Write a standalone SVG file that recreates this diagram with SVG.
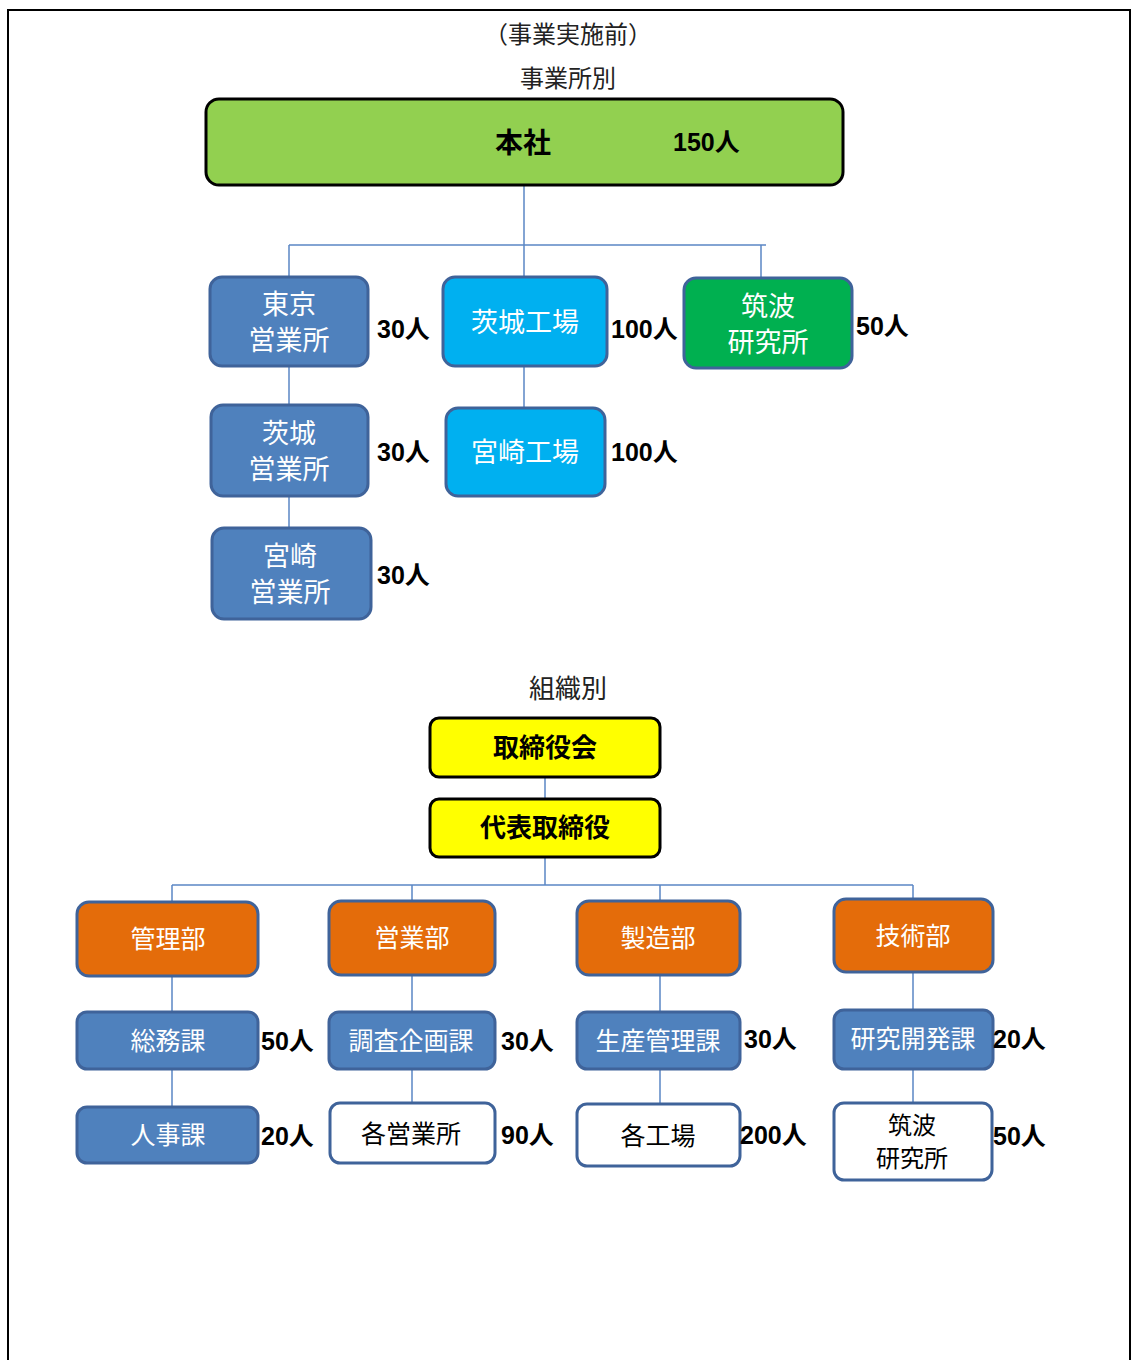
<svg xmlns="http://www.w3.org/2000/svg" width="1137" height="1360" viewBox="0 0 1137 1360">
<style>
.title{font-family:"Noto Sans CJK JP","Noto Sans CJK SC",sans-serif;font-size:24px;fill:#222;text-anchor:middle}
.bx{stroke:#3F639A;stroke-width:3}
.blue{fill:#4F81BD}
.cyan{fill:#00B0F0}
.green{fill:#00B050}
.orange{fill:#E46C0A}
.white{fill:#FFFFFF}
.yellow{fill:#FFFF00;stroke:#000;stroke-width:3}
.lime{fill:#92D050;stroke:#000;stroke-width:3}
.wt{font-family:"Noto Sans CJK JP","Noto Sans CJK SC",sans-serif;font-size:25px;fill:#fff;text-anchor:middle}
.wt2{font-family:"Noto Sans CJK JP","Noto Sans CJK SC",sans-serif;font-size:27px;fill:#fff;text-anchor:middle}
.bt{font-family:"Noto Sans CJK JP","Noto Sans CJK SC",sans-serif;font-size:25px;fill:#000;text-anchor:middle}
.bb{font-family:"Noto Sans CJK JP","Noto Sans CJK SC",sans-serif;font-size:26px;font-weight:bold;fill:#000;text-anchor:middle}
.num{font-family:"Liberation Sans","Noto Sans CJK JP",sans-serif;font-size:25px;font-weight:bold;fill:#000}
.ln{stroke:#5B87C5;stroke-width:1.5;fill:none}
</style>
<rect x="0" y="0" width="1137" height="1360" fill="#fff"/>
<path d="M8,1360 V10 H1130 V1360" fill="none" stroke="#000" stroke-width="2"/>
<text class="title" x="568" y="43">（事業実施前）</text>
<text class="title" x="568" y="87">事業所別</text>
<text class="title" x="568" y="698" style="font-size:26px">組織別</text>
<g id="connectors">
<path class="ln" d="M524,185 V277 M289,245 H766 M289,245 V277 M761,245 V278 M289,366 V406 M524,366 V408 M289,496 V528"/>
<path class="ln" d="M545,777 V799 M545,857 V885 M172,885 H913 M172,885 V902 M412,885 V901 M660,885 V901 M913,885 V899"/>
<path class="ln" d="M172,976 V1012 M412,975 V1012 M660,975 V1012 M913,972 V1010 M172,1069 V1107 M412,1069 V1103 M660,1069 V1104 M913,1069 V1103"/>
</g>
<g id="honsha"><rect class="lime" x="206" y="99" width="637" height="86" rx="13"/><text class="bb" x="523" y="153" style="font-size:28px">本社</text><text class="num" x="673" y="151">150人</text></g>
<g id="tokyo"><rect class="bx blue" x="210" y="277" width="158" height="89" rx="12"/><text class="wt2" x="289" y="314">東京<tspan x="289" dy="36">営業所</tspan></text><text class="num" x="377" y="338">30人</text></g>
<g id="ibaraki-factory"><rect class="bx cyan" x="443" y="277" width="164" height="89" rx="12"/><text class="wt2" x="525" y="332">茨城工場</text><text class="num" x="611" y="338">100人</text></g>
<g id="tsukuba"><rect class="bx green" x="684" y="278" width="168" height="90" rx="12"/><text class="wt2" x="768" y="316">筑波<tspan x="768" dy="36">研究所</tspan></text><text class="num" x="856" y="335">50人</text></g>
<g id="ibaraki-office"><rect class="bx blue" x="211" y="405" width="157" height="91" rx="12"/><text class="wt2" x="289" y="443">茨城<tspan x="289" dy="36">営業所</tspan></text><text class="num" x="377" y="461">30人</text></g>
<g id="miyazaki-factory"><rect class="bx cyan" x="446" y="408" width="159" height="88" rx="12"/><text class="wt2" x="525" y="462">宮崎工場</text><text class="num" x="611" y="461">100人</text></g>
<g id="miyazaki-office"><rect class="bx blue" x="212" y="528" width="159" height="91" rx="12"/><text class="wt2" x="290" y="566">宮崎<tspan x="290" dy="36">営業所</tspan></text><text class="num" x="377" y="584">30人</text></g>
<g id="board"><rect class="yellow" x="430" y="718" width="230" height="59" rx="9"/><text class="bb" x="545" y="757">取締役会</text></g>
<g id="ceo"><rect class="yellow" x="430" y="799" width="230" height="58" rx="9"/><text class="bb" x="545" y="837">代表取締役</text></g>
<g id="kanri"><rect class="bx orange" x="77" y="902" width="181" height="74" rx="12"/><text class="wt" x="168" y="948">管理部</text></g>
<g id="eigyo"><rect class="bx orange" x="329" y="901" width="166" height="74" rx="12"/><text class="wt" x="412" y="947">営業部</text></g>
<g id="seizo"><rect class="bx orange" x="577" y="901" width="163" height="74" rx="12"/><text class="wt" x="658" y="947">製造部</text></g>
<g id="gijutsu"><rect class="bx orange" x="834" y="899" width="159" height="73" rx="12"/><text class="wt" x="913" y="945">技術部</text></g>
<g id="somu"><rect class="bx blue" x="77" y="1012" width="181" height="57" rx="10"/><text class="wt" x="168" y="1050">総務課</text><text class="num" x="261" y="1050">50人</text></g>
<g id="chosa"><rect class="bx blue" x="329" y="1012" width="166" height="57" rx="10"/><text class="wt" x="411" y="1050">調査企画課</text><text class="num" x="501" y="1050">30人</text></g>
<g id="seisan"><rect class="bx blue" x="577" y="1012" width="163" height="57" rx="10"/><text class="wt" x="658" y="1050">生産管理課</text><text class="num" x="744" y="1048">30人</text></g>
<g id="kenkyu"><rect class="bx blue" x="834" y="1010" width="159" height="59" rx="10"/><text class="wt" x="913" y="1048">研究開発課</text><text class="num" x="993" y="1048">20人</text></g>
<g id="jinji"><rect class="bx blue" x="77" y="1107" width="181" height="56" rx="10"/><text class="wt" x="168" y="1144">人事課</text><text class="num" x="261" y="1145">20人</text></g>
<g id="kaku-eigyo"><rect class="bx white" x="330" y="1103" width="165" height="60" rx="10"/><text class="bt" x="411" y="1143">各営業所</text><text class="num" x="501" y="1144">90人</text></g>
<g id="kaku-kojo"><rect class="bx white" x="577" y="1104" width="163" height="62" rx="10"/><text class="bt" x="658" y="1145">各工場</text><text class="num" x="740" y="1144">200人</text></g>
<g id="tsukuba2"><rect class="bx white" x="834" y="1103" width="158" height="77" rx="10"/><text class="bt" x="912" y="1134" style="font-size:24px">筑波<tspan x="912" dy="33">研究所</tspan></text><text class="num" x="993" y="1145">50人</text></g>
</svg>
